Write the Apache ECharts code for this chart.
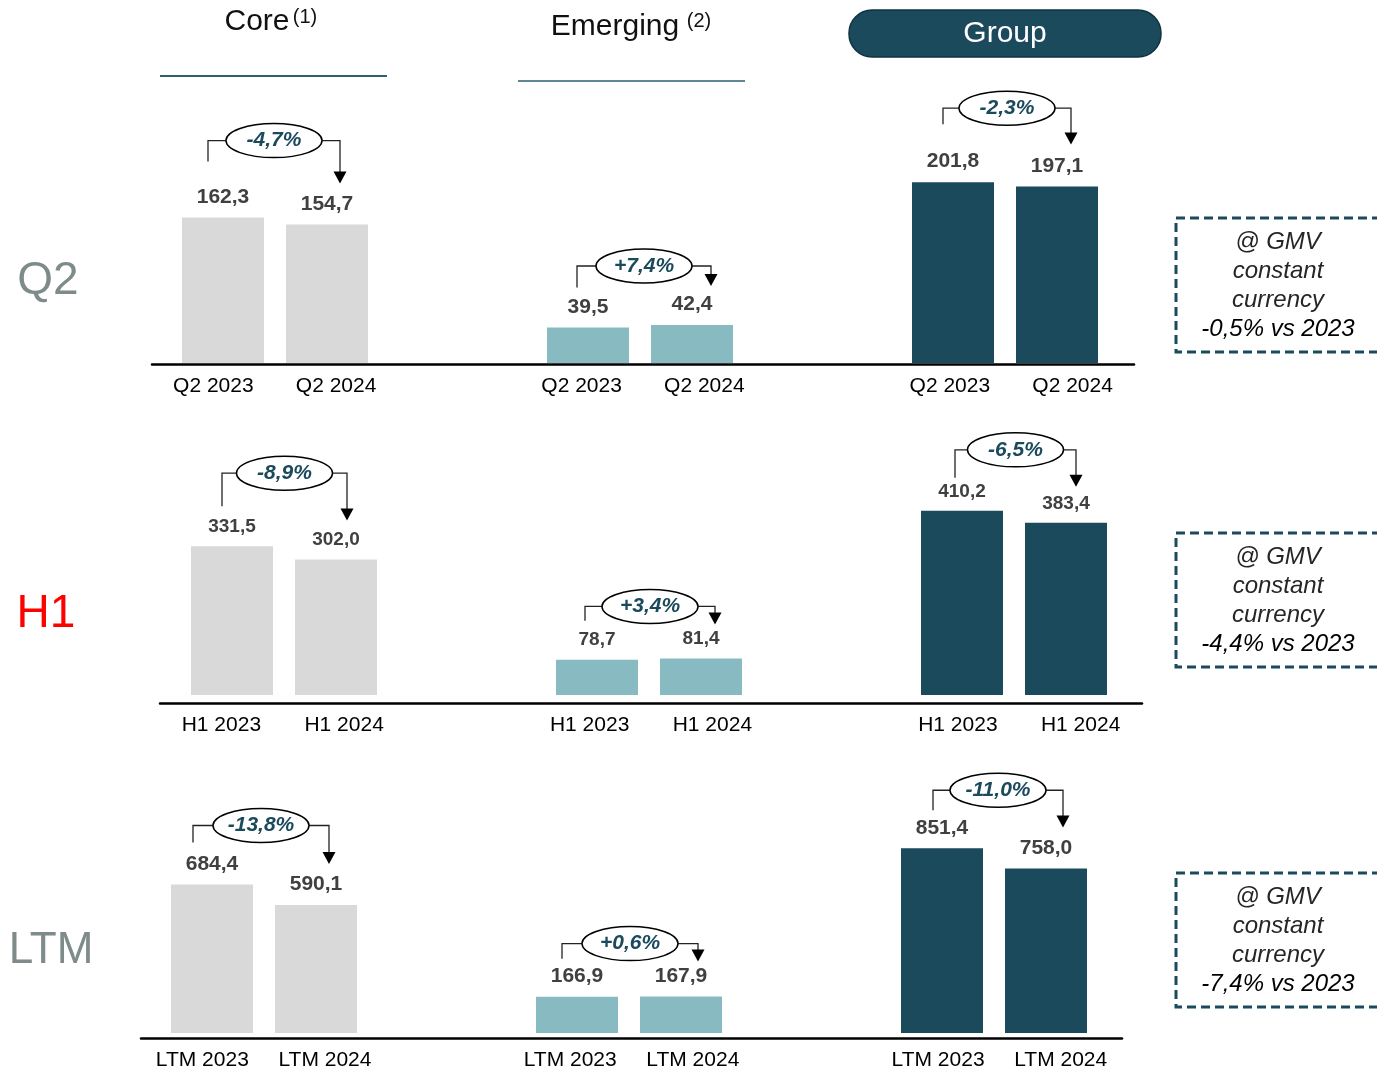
<!DOCTYPE html>
<html>
<head>
<meta charset="utf-8">
<script src="https://cdn.jsdelivr.net/npm/echarts@6/dist/echarts.min.js"></script>
<style>
  html, body { margin: 0; padding: 0; background: #fff; }
  #main { width: 1377px; height: 1071px; }
</style>
</head>
<body>
<div id="main"></div>
<script>
// segments & periods
const segments = ['Core', 'Emerging', 'Group']
const periods = ['Q2', 'H1', 'LTM']
const years = ['2023', '2024']

// values (M€), order = Core, Emerging, Group
const q2Values2023 = [162.3, 39.5, 201.8]
const q2Values2024 = [154.7, 42.4, 197.1]
const h1Values2023 = [331.5, 78.7, 410.2]
const h1Values2024 = [302.0, 81.4, 383.4]
const ltmValues2023 = [684.4, 166.9, 851.4]
const ltmValues2024 = [590.1, 167.9, 758.0]

// growth shown in the bubbles
const q2Change = ['-4,7%', '+7,4%', '-2,3%']
const h1Change = ['-8,9%', '+3,4%', '-6,5%']
const ltmChange = ['-13,8%', '+0,6%', '-11,0%']

// @ GMV constant currency
const constCurrency = ['-0,5% vs 2023', '-4,4% vs 2023', '-7,4% vs 2023']

const rowValues = [
  [q2Values2023, q2Values2024],
  [h1Values2023, h1Values2024],
  [ltmValues2023, ltmValues2024]
]
const rowChange = [q2Change, h1Change, ltmChange]

const FONT = 'Arial, "Liberation Sans", sans-serif'
const segColors = ['#d9d9d9', '#88bbc1', '#1b4a5c']
const DARK = '#1b4a5c'
const W = 1377, H = 1071

// layout per row
// base = x of the first bar centre, baseline = bar bottom, axisY = axis line
const rows = [
  { base: 223, baseline: 363, axisY: 364, axisLeft: 152, axisRight: 1134, max: 250, size: 21 },
  { base: 232, baseline: 695, axisY: 703, axisLeft: 160, axisRight: 1142, max: 500, size: 19 },
  { base: 212, baseline: 1033, axisY: 1038, axisLeft: 141, axisRight: 1122, max: 1000, size: 21 }
]
const PANEL_STEP = 365
const BAR_STEP = 104
const PLOT_H = [224, 224.5, 217] // px height of 0..max

// bracket tweaks per row / segment (px)
const bracketRise = [[77, 59, 74], [73, 52, 61], [59, 53, 58]]
const leftDrop = [[56, 40, 58], [40, 39, 33], [42, 38, 38]]
const tipGap = [[41, 39, 42], [39, 34, 36], [41, 35, 41]]
const leftShift = [[-15, -11, -10], [-10, -12, -7], [-19, -15, -9]]
const rightShift = [[13, 19, 14], [11, 14, 10], [13, 17, 17]]

const fmt = (v) => v.toFixed(1).replace('.', ',')

const myChart = echarts.init(document.getElementById('main'))

const grid = []
const xAxis = []
const yAxis = []
const series = []

// bar panels: one grid per row x segment
rows.forEach((r, ri) => {
  segments.forEach((seg, si) => {
    const gi = grid.length
    const left = r.base + PANEL_STEP * si - BAR_STEP / 2
    grid.push({ left: left, width: BAR_STEP * 2, top: r.baseline - PLOT_H[ri], bottom: H - r.baseline })
    xAxis.push({ type: 'category', gridIndex: gi, data: years, show: false })
    yAxis.push({ type: 'value', gridIndex: gi, min: 0, max: r.max, show: false })
    series.push({
      name: periods[ri] + ' ' + seg,
      type: 'bar',
      xAxisIndex: gi,
      yAxisIndex: gi,
      barWidth: 82,
      data: [rowValues[ri][0][si], rowValues[ri][1][si]],
      itemStyle: { color: segColors[si] },
      label: {
        show: true,
        position: 'top',
        distance: 10,
        color: '#404040',
        fontWeight: 'bold',
        fontSize: r.size,
        fontFamily: FONT,
        formatter: (p) => fmt(p.value)
      },
      silent: true
    })
  })
})

// axis line + tick labels: one grid per row, 8 slots (2 per segment + 2 gaps)
rows.forEach((r, ri) => {
  const gi = grid.length
  grid.push({ left: r.axisLeft, right: W - r.axisRight, top: r.axisY - 100, bottom: H - r.axisY })
  const cats = []
  segments.forEach((seg, si) => {
    cats.push(periods[ri] + ' ' + years[0], periods[ri] + ' ' + years[1])
    if (si < 2) cats.push('')
  })
  xAxis.push({
    type: 'category',
    gridIndex: gi,
    data: cats,
    axisLine: { onZero: false, lineStyle: { color: '#000', width: 2.5 } },
    axisTick: { show: false },
    axisLabel: { interval: 0, color: '#000', fontSize: 21, fontFamily: FONT, margin: 12 }
  })
  yAxis.push({ type: 'value', gridIndex: gi, min: 0, max: 1, show: false })
})

const option = {
  animation: false,
  textStyle: { fontFamily: FONT },
  grid,
  xAxis,
  yAxis,
  series
}
myChart.setOption(option)

// ---- annotations ----
const g = []

// column headers
g.push({ type: 'text', x: 257, y: 22, style: { text: 'Core', fontSize: 30, fontFamily: FONT, fill: '#111', align: 'center', verticalAlign: 'middle' } })
g.push({ type: 'text', x: 305, y: 17, style: { text: '(1)', fontSize: 20, fontFamily: FONT, fill: '#111', align: 'center', verticalAlign: 'middle' } })
g.push({ type: 'line', shape: { x1: 160, y1: 76, x2: 387, y2: 76 }, style: { stroke: '#2f5d72', lineWidth: 2 } })
g.push({ type: 'text', x: 615, y: 27, style: { text: 'Emerging', fontSize: 30, fontFamily: FONT, fill: '#111', align: 'center', verticalAlign: 'middle' } })
g.push({ type: 'text', x: 699, y: 21, style: { text: '(2)', fontSize: 20, fontFamily: FONT, fill: '#111', align: 'center', verticalAlign: 'middle' } })
g.push({ type: 'line', shape: { x1: 518, y1: 81, x2: 745, y2: 81 }, style: { stroke: '#5e8794', lineWidth: 2 } })
g.push({ type: 'rect', shape: { x: 849, y: 10, width: 312, height: 47, r: 23 }, style: { fill: DARK, stroke: '#0f3342', lineWidth: 1.5 } })
g.push({ type: 'text', x: 1005, y: 34, style: { text: 'Group', fontSize: 30, fontFamily: FONT, fill: '#fff', align: 'center', verticalAlign: 'middle' } })

// row titles
const rowTitle = [
  { x: 48, y: 281, size: 46, color: '#7f8a8a' },
  { x: 46, y: 614, size: 46, color: '#ff0000' },
  { x: 51, y: 951, size: 44, color: '#7f8a8a' }
]
rowTitle.forEach((t, ri) => {
  g.push({ type: 'text', x: t.x, y: t.y, style: { text: periods[ri], fontSize: t.size, fontFamily: FONT, fill: t.color, align: 'center', verticalAlign: 'middle' } })
})

// constant currency boxes
const boxTop = [218, 533, 873]
boxTop.forEach((bt, ri) => {
  g.push({ type: 'rect', shape: { x: 1176, y: bt, width: 230, height: 134 }, style: { fill: 'none', stroke: DARK, lineWidth: 3, lineDash: [9, 5] } })
  const lines = ['@ GMV', 'constant', 'currency', constCurrency[ri]]
  lines.forEach((txt, li) => {
    g.push({
      type: 'text', x: 1278, y: bt + 24 + li * 29,
      style: { text: txt, fontSize: 24, fontStyle: 'italic', fontFamily: FONT, fill: li === 3 ? '#000' : '#262626', align: 'center', verticalAlign: 'middle' }
    })
  })
})

// brackets with growth bubble
rows.forEach((r, ri) => {
  segments.forEach((seg, si) => {
    const sIdx = ri * 3 + si
    const p23 = myChart.convertToPixel({ seriesIndex: sIdx }, [0, rowValues[ri][0][si]])
    const p24 = myChart.convertToPixel({ seriesIndex: sIdx }, [1, rowValues[ri][1][si]])
    const lx = p23[0] + leftShift[ri][si]
    const rx = p24[0] + rightShift[ri][si]
    const top = Math.min(p23[1], p24[1]) - bracketRise[ri][si]
    const lBottom = p23[1] - leftDrop[ri][si]
    const tip = p24[1] - tipGap[ri][si]
    const cx = (lx + rx) / 2
    const erx = 48
    const ery = 17
    g.push({ type: 'polyline', shape: { points: [[lx, lBottom], [lx, top], [cx - erx, top]] }, style: { stroke: '#222', lineWidth: 1.3, fill: null } })
    g.push({ type: 'polyline', shape: { points: [[cx + erx, top], [rx, top], [rx, tip - 11]] }, style: { stroke: '#222', lineWidth: 1.3, fill: null } })
    g.push({ type: 'polygon', shape: { points: [[rx - 6.5, tip - 12], [rx + 6.5, tip - 12], [rx, tip]] }, style: { fill: '#000' } })
    g.push({ type: 'ellipse', shape: { cx: cx, cy: top, rx: erx, ry: ery }, style: { fill: '#fff', stroke: '#000', lineWidth: 1.5 } })
    g.push({
      type: 'text', x: cx, y: top, z: 10,
      style: { text: rowChange[ri][si], fontSize: 21, fontWeight: 'bold', fontStyle: 'italic', fontFamily: FONT, fill: DARK, align: 'center', verticalAlign: 'middle' }
    })
  })
})

myChart.setOption({ graphic: { elements: g } })
</script>
</body>
</html>
